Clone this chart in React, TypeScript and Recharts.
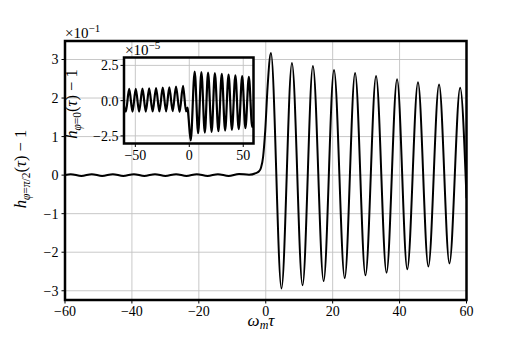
import React from 'react';
import { LineChart, Line, XAxis, YAxis, CartesianGrid, ReferenceArea } from 'recharts';

// Main panel: h_{phi=pi/2}(tau) - 1  (values in units of 1e-1)
const mainTau = [
  -60, -58.3, -55.1, -52.0, -48.9, -45.7, -42.6, -39.4, -36.3, -33.1, -30.0, -26.8, -23.7,
  -20.6, -17.4, -14.3, -11.1, -8.0, -5.0, -3.0, -2.0, -1.4, -0.8, -0.15, 0.55, 1.55,
  4.7, 7.83, 11.0, 14.1, 17.3, 20.4, 23.6, 26.7, 29.8, 32.97, 36.1, 39.25, 42.3, 45.5,
  48.6, 51.8, 54.9, 58.1, 60,
];
const mainVal = [
  0.0, 0.025, -0.02, 0.025, -0.02, 0.025, -0.02, 0.025, -0.02, 0.025, -0.02, 0.025, -0.02,
  0.025, -0.02, 0.025, -0.02, 0.03, 0.01, 0.05, 0.1, 0.2, 0.47, 1.16, 2.29, 3.17,
  -2.94, 2.91, -2.86, 2.83, -2.75, 2.73, -2.67, 2.65, -2.6, 2.57, -2.53, 2.49, -2.44, 2.41,
  -2.37, 2.35, -2.29, 2.27, -0.6,
];

// Inset panel: h_{phi=0}(tau) - 1  (values in units of 1e-5)
const insetTau = [
  -60.5, -58.8, -55.7, -52.6, -49.6, -46.5, -43.4, -40.3, -37.2, -34.0, -30.8, -27.7, -24.6,
  -21.5, -18.5, -15.4, -12.3, -9.0, -5.8, -3.0, -1.6, -0.8, 1.3, 5.0, 8.2, 11.2, 14.4,
  17.4, 20.7, 23.7, 27.0, 30.1, 33.2, 36.4, 39.5, 42.7, 45.8, 49.0, 52.0, 55.2, 58.3, 59.5,
];
const insetVal = [
  -0.4, -0.78, 0.83, -0.78, 0.84, -0.78, 0.85, -0.78, 0.87, -0.77, 0.89, -0.77, 0.92,
  -0.76, 0.95, -0.75, 1.0, -0.8, 1.05, -0.76, -0.5, -1.1, -2.82, 2.06, -2.31, 2.03, -2.27,
  1.99, -2.22, 1.95, -2.17, 1.9, -2.12, 1.85, -2.07, 1.8, -2.02, 1.74, -1.96, 1.68, -1.88, -1.5,
];

const mainXTicks = [-60, -40, -20, 0, 20, 40, 60];
const mainYTicks = [-3, -2, -1, 0, 1, 2, 3];
const insetXTicks = [-50, 0, 50];
const insetYTicks = [-2.5, 0, 2.5];

const mainXDomain: [number, number] = [-60, 60];
const mainYDomain: [number, number] = [-3.24, 3.48];
const insetXDomain: [number, number] = [-60.5, 59.5];
const insetYDomain: [number, number] = [-3.04, 3.06];

const mainData = mainTau.map((t, i) => ({ t, v: mainVal[i] }));
const insetData = insetTau.map((t, i) => ({ t, v: insetVal[i] }));

const FONT = 'Liberation Serif';
const minus = (s: string) => s.replace('-', '\u2212');
const fmtInt = (v: number) => minus(String(v));
const fmt1 = (v: number) => minus(v.toFixed(1));

const tickStyle = { fill: '#000', fontSize: 14, fontFamily: FONT, style: { fontFamily: FONT } };
const GRID = '#c2c2c2';
const txt = { fontFamily: FONT };

export default function App() {
  return (
    <div style={{ position: 'absolute', left: 0, top: 0, width: 518, height: 343, background: '#fff', fontFamily: FONT }}>
      <div style={{ position: 'absolute', left: 0, top: 0 }}>
        <LineChart width={518} height={343} data={mainData} margin={{ top: 41, right: 51.5, bottom: 0, left: 0 }} style={txt}>
          <CartesianGrid stroke={GRID} strokeWidth={0.9} />
          <XAxis
            dataKey="t"
            type="number"
            domain={mainXDomain}
            ticks={mainXTicks}
            interval={0}
            allowDataOverflow
            height={43}
            tickSize={3.5}
            tickMargin={3}
            tick={tickStyle}
            tickLine={{ stroke: '#000' }}
            axisLine={false}
            tickFormatter={fmtInt}
          />
          <YAxis
            type="number"
            domain={mainYDomain}
            ticks={mainYTicks}
            interval={0}
            allowDataOverflow
            width={65}
            tickSize={3.5}
            tickMargin={3}
            tick={tickStyle}
            tickLine={{ stroke: '#000' }}
            axisLine={false}
            tickFormatter={fmtInt}
          />
          <Line dataKey="v" type="monotone" stroke="#000" strokeWidth={2} dot={false} isAnimationActive={false} />
          <ReferenceArea
            x1={mainXDomain[0]}
            x2={mainXDomain[1]}
            y1={mainYDomain[0]}
            y2={mainYDomain[1]}
            fill="none"
            fillOpacity={0}
            stroke="#000"
            strokeWidth={2.5}
            ifOverflow="visible"
          />
        </LineChart>
      </div>
      <div style={{ position: 'absolute', left: 124, top: 57.5, width: 129.5, height: 86, background: '#fff' }} />
      <div style={{ position: 'absolute', left: 0, top: 0 }}>
        <LineChart width={518} height={343} data={insetData} margin={{ top: 57.5, right: 264.5, bottom: 0, left: 0 }} style={txt}>
          <CartesianGrid stroke={GRID} strokeWidth={0.9} />
          <XAxis
            dataKey="t"
            type="number"
            domain={insetXDomain}
            ticks={insetXTicks}
            interval={0}
            allowDataOverflow
            height={199.5}
            tickSize={3.5}
            tickMargin={3}
            tick={tickStyle}
            tickLine={{ stroke: '#000' }}
            axisLine={false}
            tickFormatter={fmtInt}
          />
          <YAxis
            type="number"
            domain={insetYDomain}
            ticks={insetYTicks}
            interval={0}
            allowDataOverflow
            width={124}
            tickSize={3.5}
            tickMargin={2}
            tick={tickStyle}
            tickLine={{ stroke: '#000' }}
            axisLine={false}
            tickFormatter={fmt1}
          />
          <Line dataKey="v" type="monotone" stroke="#000" strokeWidth={2.2} dot={false} isAnimationActive={false} />
          <ReferenceArea
            x1={insetXDomain[0]}
            x2={insetXDomain[1]}
            y1={insetYDomain[0]}
            y2={insetYDomain[1]}
            fill="none"
            fillOpacity={0}
            stroke="#000"
            strokeWidth={2.5}
            ifOverflow="visible"
          />
        </LineChart>
      </div>
      <svg
        width={518}
        height={343}
        style={{ position: 'absolute', left: 0, top: 0, pointerEvents: 'none', fontFamily: FONT }}
        fill="#000"
      >
        <text x={65} y={38} fontSize={15} style={txt}>
          ×10<tspan dy={-6} fontSize={11}>{'\u22121'}</tspan>
        </text>
        <text x={125} y={55} fontSize={15} style={txt}>
          ×10<tspan dy={-6} fontSize={11}>{'\u22125'}</tspan>
        </text>
        <text x={261} y={326} fontSize={17} textAnchor="middle" style={txt}>
          <tspan fontStyle="italic">ω</tspan>
          <tspan fontStyle="italic" fontSize={12} dy={3}>m</tspan>
          <tspan fontStyle="italic" dy={-3}>τ</tspan>
        </text>
        <text transform="translate(26,169) rotate(-90)" fontSize={16.5} textAnchor="middle" style={txt}>
          <tspan fontStyle="italic">h</tspan>
          <tspan fontSize={11.5} dy={3.5}>
            <tspan fontStyle="italic">φ</tspan>=<tspan fontStyle="italic">π</tspan>/2
          </tspan>
          <tspan dy={-3.5}>(</tspan>
          <tspan fontStyle="italic">τ</tspan>
          <tspan>) − 1</tspan>
        </text>
        <text transform="translate(77,104) rotate(-90)" fontSize={16.5} textAnchor="middle" style={txt}>
          <tspan fontStyle="italic">h</tspan>
          <tspan fontSize={11.5} dy={3.5}>
            <tspan fontStyle="italic">φ</tspan>=0
          </tspan>
          <tspan dy={-3.5}>(</tspan>
          <tspan fontStyle="italic">τ</tspan>
          <tspan>) − 1</tspan>
        </text>
      </svg>
    </div>
  );
}
